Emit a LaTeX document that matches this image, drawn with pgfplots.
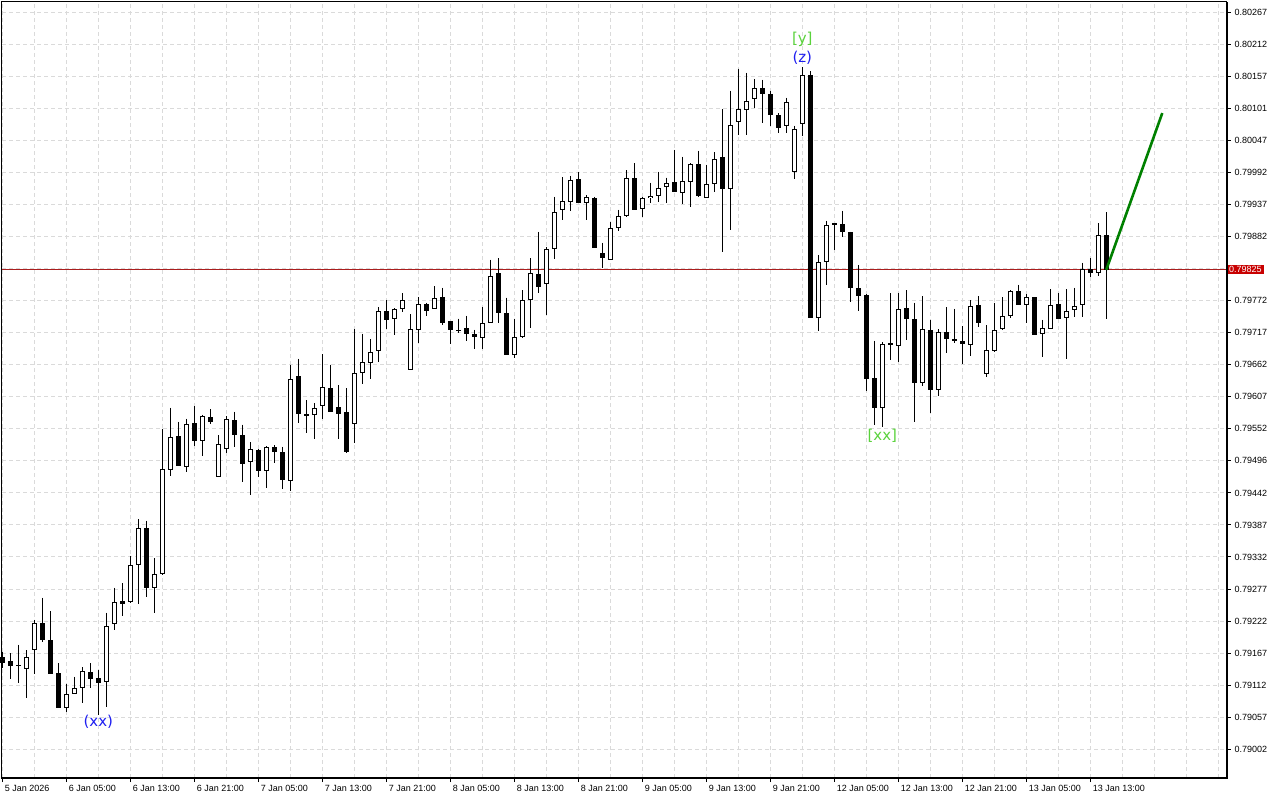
\documentclass[border=0pt]{standalone}
\usepackage{fontspec}
\setmainfont{Liberation Sans}
\newfontfamily\dejavu{DejaVu Sans}
\usepackage{pgfplots}
\usepackage{pgfplotstable}
\pgfplotsset{compat=1.18}

\definecolor{gridc}{RGB}{218,218,218}
\definecolor{priceline}{RGB}{170,30,30}
\definecolor{pricebox}{RGB}{200,0,0}
\definecolor{lblgreen}{RGB}{90,210,60}
\definecolor{lblblue}{RGB}{30,30,240}
\definecolor{projgreen}{RGB}{0,128,0}

\pgfplotstableread{
k o h l c
0 0.79160 0.79169 0.79141 0.79150
1 0.79153 0.79167 0.79123 0.79145
2 0.79147 0.79181 0.79116 0.79145
3 0.79141 0.79172 0.79090 0.79160
4 0.79172 0.79224 0.79131 0.79219
5 0.79219 0.79262 0.79186 0.79189
6 0.79189 0.79239 0.79131 0.79131
7 0.79133 0.79150 0.79073 0.79074
8 0.79074 0.79114 0.79066 0.79098
9 0.79098 0.79126 0.79098 0.79107
10 0.79107 0.79143 0.79081 0.79136
11 0.79136 0.79150 0.79107 0.79124
12 0.79126 0.79138 0.79061 0.79116
13 0.79119 0.79236 0.79074 0.79215
14 0.79217 0.79279 0.79207 0.79256
15 0.79258 0.79287 0.79231 0.79253
16 0.79255 0.79334 0.79253 0.79318
17 0.79320 0.79397 0.79251 0.79382
18 0.79382 0.79394 0.79263 0.79280
19 0.79280 0.79330 0.79236 0.79303
20 0.79303 0.79552 0.79301 0.79483
21 0.79483 0.79588 0.79471 0.79540
22 0.79540 0.79564 0.79488 0.79488
23 0.79488 0.79569 0.79478 0.79562
24 0.79562 0.79591 0.79522 0.79531
25 0.79531 0.79576 0.79505 0.79574
26 0.79574 0.79586 0.79560 0.79564
27 0.79469 0.79541 0.79469 0.79526
28 0.79517 0.79574 0.79510 0.79569
29 0.79569 0.79581 0.79521 0.79543
30 0.79543 0.79559 0.79461 0.79493
31 0.79495 0.79529 0.79438 0.79517
32 0.79517 0.79517 0.79469 0.79480
33 0.79481 0.79522 0.79450 0.79521
34 0.79522 0.79524 0.79493 0.79514
35 0.79514 0.79521 0.79449 0.79466
36 0.79464 0.79662 0.79445 0.79639
37 0.79643 0.79672 0.79562 0.79577
38 0.79577 0.79601 0.79545 0.79576
39 0.79576 0.79596 0.79535 0.79589
40 0.79591 0.79680 0.79569 0.79624
41 0.79624 0.79662 0.79583 0.79583
42 0.79591 0.79627 0.79535 0.79579
43 0.79581 0.79622 0.79510 0.79512
44 0.79562 0.79723 0.79528 0.79648
45 0.79648 0.79715 0.79629 0.79667
46 0.79667 0.79706 0.79638 0.79686
47 0.79686 0.79761 0.79667 0.79756
48 0.79756 0.79773 0.79723 0.79740
49 0.79742 0.79759 0.79713 0.79758
50 0.79758 0.79785 0.79753 0.79773
51 0.79653 0.79749 0.79653 0.79722
52 0.79722 0.79778 0.79699 0.79768
53 0.79768 0.79768 0.79746 0.79756
54 0.79758 0.79797 0.79758 0.79778
55 0.79778 0.79794 0.79730 0.79735
56 0.79737 0.79737 0.79698 0.79722
57 0.79723 0.79741 0.79716 0.79721
58 0.79725 0.79746 0.79703 0.79715
59 0.79716 0.79722 0.79689 0.79710
60 0.79710 0.79761 0.79689 0.79735
61 0.79735 0.79842 0.79735 0.79816
62 0.79821 0.79845 0.79734 0.79751
63 0.79751 0.79777 0.79680 0.79680
64 0.79680 0.79741 0.79674 0.79710
65 0.79710 0.79790 0.79708 0.79773
66 0.79773 0.79845 0.79725 0.79819
67 0.79819 0.79890 0.79785 0.79797
68 0.79801 0.79864 0.79747 0.79861
69 0.79862 0.79950 0.79843 0.79926
70 0.79928 0.79984 0.79910 0.79943
71 0.79943 0.79986 0.79926 0.79981
72 0.79981 0.79993 0.79941 0.79941
73 0.79941 0.79953 0.79910 0.79950
74 0.79950 0.79950 0.79862 0.79864
75 0.79854 0.79871 0.79828 0.79845
76 0.79842 0.79907 0.79842 0.79897
77 0.79897 0.79928 0.79892 0.79919
78 0.79919 0.79996 0.79916 0.79983
79 0.79983 0.80008 0.79928 0.79928
80 0.79929 0.79950 0.79916 0.79948
81 0.79948 0.79974 0.79940 0.79953
82 0.79953 0.79993 0.79941 0.79967
83 0.79967 0.79983 0.79940 0.79974
84 0.79976 0.80031 0.79960 0.79960
85 0.79957 0.80019 0.79938 0.79977
86 0.79976 0.80008 0.79933 0.80007
87 0.80008 0.80029 0.79950 0.79952
88 0.79950 0.80005 0.79948 0.79974
89 0.79974 0.80027 0.79958 0.80017
90 0.80019 0.80101 0.79855 0.79965
91 0.79965 0.80132 0.79893 0.80075
92 0.80080 0.80170 0.80056 0.80101
93 0.80101 0.80163 0.80056 0.80116
94 0.80118 0.80152 0.80103 0.80137
95 0.80137 0.80151 0.80077 0.80128
96 0.80128 0.80132 0.80072 0.80092
97 0.80092 0.80094 0.80060 0.80070
98 0.80072 0.80120 0.80060 0.80113
99 0.79993 0.80072 0.79981 0.80068
100 0.80077 0.80173 0.80055 0.80161
101 0.80161 0.80166 0.79742 0.79744
102 0.79744 0.79850 0.79720 0.79840
103 0.79840 0.79909 0.79799 0.79904
104 0.79905 0.79905 0.79859 0.79902
105 0.79904 0.79926 0.79881 0.79890
106 0.79890 0.79890 0.79770 0.79795
107 0.79795 0.79833 0.79754 0.79780
108 0.79783 0.79783 0.79617 0.79639
109 0.79641 0.79703 0.79559 0.79589
110 0.79589 0.79701 0.79555 0.79699
111 0.79699 0.79785 0.79670 0.79698
112 0.79694 0.79785 0.79667 0.79759
113 0.79761 0.79790 0.79704 0.79741
114 0.79741 0.79768 0.79564 0.79632
115 0.79632 0.79780 0.79625 0.79723
116 0.79722 0.79739 0.79579 0.79620
117 0.79619 0.79723 0.79608 0.79718
118 0.79718 0.79761 0.79682 0.79706
119 0.79706 0.79758 0.79699 0.79703
120 0.79704 0.79728 0.79663 0.79698
121 0.79698 0.79773 0.79677 0.79765
122 0.79765 0.79780 0.79727 0.79735
123 0.79646 0.79730 0.79641 0.79687
124 0.79687 0.79768 0.79684 0.79723
125 0.79725 0.79778 0.79722 0.79747
126 0.79747 0.79790 0.79742 0.79789
127 0.79789 0.79799 0.79765 0.79765
128 0.79765 0.79783 0.79734 0.79778
129 0.79778 0.79778 0.79713 0.79713
130 0.79715 0.79739 0.79675 0.79725
131 0.79725 0.79792 0.79725 0.79765
132 0.79766 0.79785 0.79741 0.79741
133 0.79744 0.79792 0.79672 0.79756
134 0.79758 0.79794 0.79744 0.79765
135 0.79766 0.79837 0.79744 0.79828
136 0.79828 0.79845 0.79813 0.79821
137 0.79821 0.79905 0.79814 0.79885
138 0.79885 0.79924 0.79741 0.79825
}\candles

\begin{document}
\begin{tikzpicture}
\path[use as bounding box] (0,0) rectangle (1280bp,800bp);
\begin{axis}[
  at={(2bp,22bp)}, anchor=south west,
  scale only axis, width=1225bp, height=776bp,
  xmin=-0.04, xmax=153.09, ymin=0.789526, ymax=0.802847,
  clip=false,
  axis line style={black, line width=1bp},
  xtick={0,8,...,136},
  xticklabels={5 Jan 2026,6 Jan 05:00,6 Jan 13:00,6 Jan 21:00,7 Jan 05:00,7 Jan 13:00,7 Jan 21:00,8 Jan 05:00,8 Jan 13:00,8 Jan 21:00,9 Jan 05:00,9 Jan 13:00,9 Jan 21:00,12 Jan 05:00,12 Jan 13:00,12 Jan 21:00,13 Jan 05:00,13 Jan 13:00},
  minor xtick={4,12,20,28,36,44,52,60,68,76,84,92,100,108,116,124,132,140,144,148,152},
  ytick={0.80267,0.80212,0.80157,0.80102,0.80047,0.79992,0.79937,0.79882,0.79827,0.79772,0.79717,0.79662,0.79607,0.79552,0.79497,0.79442,0.79387,0.79332,0.79277,0.79222,0.79167,0.79112,0.79057,0.79002},
  yticklabels={0.80267,0.80212,0.80157,0.80101,0.80047,0.79992,0.79937,0.79882,{},0.79772,0.79717,0.79662,0.79607,0.79552,0.79496,0.79442,0.79387,0.79332,0.79277,0.79222,0.79167,0.79112,0.79057,0.79002},
  scaled y ticks=false,
  xtick pos=bottom, ytick pos=right, yticklabel pos=right,
  tick align=outside,
  major tick length=4bp, minor tick length=0bp,
  tick style={black, line width=1bp},
  grid=both,
  major grid style={gridc, dash pattern=on 4bp off 3bp, line width=1bp},
  minor grid style={gridc, dash pattern=on 4bp off 3bp, line width=1bp},
  ticklabel style={font=\fontsize{9bp}{10bp}\selectfont},
  xticklabel style={anchor=north west, xshift=-1bp},
  yticklabel style={anchor=west, xshift=0bp},
  candle/.style={only marks, mark=none, mark size=0pt, mark options={draw=none, fill=none}, forget plot},
]
% current price line
\addplot[priceline, line width=1bp, forget plot] coordinates {(-0.04,0.79825) (153.09,0.79825)};
% wicks
\addplot[black, candle,
  error bars/.cd, y dir=minus, y explicit, error mark=none,
  error bar style={black, line width=1bp}]
  table[x=k, y=h, y error expr={\thisrow{h}-\thisrow{l}}] {\candles};
% bodies (outer, black)
\addplot[black, candle,
  error bars/.cd, y dir=both, y explicit, error mark=none,
  error bar style={black, line width=5bp}]
  table[x=k, y expr={(\thisrow{o}+\thisrow{c})/2}, y error expr={max(abs(\thisrow{o}-\thisrow{c})/2,0.0000086)}] {\candles};
% bodies (inner, white, bullish)
\addplot[white, candle,
  error bars/.cd, y dir=both, y explicit, error mark=none,
  error bar style={white, line width=3bp}]
  table[x=k, y expr={(\thisrow{o}+\thisrow{c})/2}, y error expr={ifthenelse(\thisrow{c}>\thisrow{o}, max((\thisrow{c}-\thisrow{o})/2-0.0000172,0), 0)}] {\candles};
% projection
\addplot[projgreen, line width=2.6bp, forget plot] coordinates {(138,0.79825) (145,0.80094)};
% labels
\node[text=lblgreen, font=\dejavu\fontsize{15bp}{18bp}\selectfont] at (axis cs:100,0.80221) {[y]};
\node[text=lblblue, font=\dejavu\fontsize{15bp}{18bp}\selectfont] at (axis cs:100,0.80189) {(z)};
\node[text=lblblue, font=\dejavu\fontsize{15bp}{18bp}\selectfont] at (axis cs:12,0.79049) {(xx)};
\node[text=lblgreen, font=\dejavu\fontsize{15bp}{18bp}\selectfont] at (axis cs:110,0.79540) {[xx]};
% price label
\node[fill=pricebox, text=white, anchor=west, inner xsep=2bp, inner ysep=1.5bp, font=\fontsize{9bp}{10bp}\selectfont] at (axis cs:153.09,0.79825) {0.79825};
\draw[black, line width=2bp] (rel axis cs:0,0) -- (rel axis cs:1,0) -- (rel axis cs:1,1);
\end{axis}
\end{tikzpicture}
\end{document}
